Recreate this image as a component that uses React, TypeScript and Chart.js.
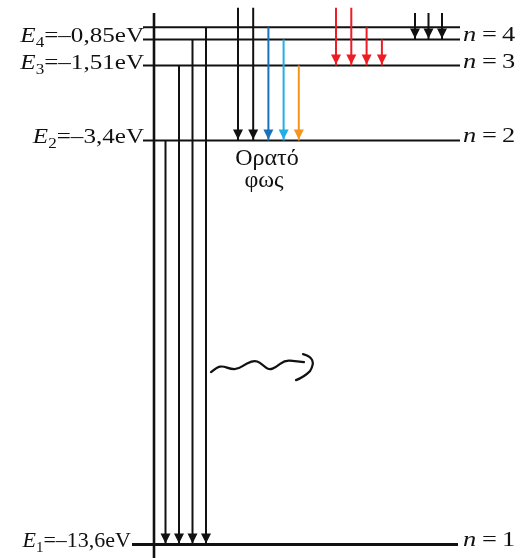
import React, { useEffect, useRef } from "react";
import { Chart, registerables } from "chart.js";

Chart.register(...registerables);

// ---- data (energies in eV) ----
const levelN = [1, 2, 3, 4];
const levelEnergy = [-13.6, -3.4, -1.51, -0.85];
const levelText = ["–13,6eV", "–3,4eV", "–1,51eV", "–0,85eV"];
const topLevelEnergy = -0.54; // n = 5 (unlabelled top line)
const farEnergy = -0.05; // transitions coming from higher levels
const brackettStartEnergy = -0.18;

const lymanFrom = [-3.4, -1.51, -0.85, -0.54];
const lymanTo = -13.6;
const balmerFrom = [farEnergy, farEnergy, -0.54, -0.85, -1.51];
const balmerTo = -3.4;
const balmerColors = ["#111111", "#111111", "#1c72b8", "#22aee6", "#f7941d"];
const paschenFrom = [farEnergy, farEnergy, -0.54, -0.85];
const paschenTo = -1.51;
const paschenColor = "#ee1c25";
const brackettFrom = [brackettStartEnergy, brackettStartEnergy, brackettStartEnergy];
const brackettTo = -0.85;
const visibleLabel = ["Ορατό", "φως"];

// ---- layout ----
const W = 522;
const H = 558;
const Y_MIN = -13.944;
const Y_MAX = 0.146;
const AXIS_X = 154;
const LINE_START = 143;
const LINE_END = 460;
const SERIF = "'Liberation Serif', 'Times New Roman', serif";

function arrowSets(from: number[], to: number, x0: number, step: number, colors: string[] | string) {
  return from.map((f, i) => ({
    data: [
      { x: x0 + i * step, y: f },
      { x: x0 + i * step, y: to },
    ],
    showLine: true,
    borderColor: Array.isArray(colors) ? colors[i] : colors,
    backgroundColor: Array.isArray(colors) ? colors[i] : colors,
    borderWidth: 2,
    pointRadius: 0,
    clip: false,
    isArrow: true,
    order: 1,
  }));
}

const arrowHeads = {
  id: "arrowHeads",
  afterDatasetsDraw(chart: any) {
    const ctx = chart.ctx;
    chart.data.datasets.forEach((ds: any, i: number) => {
      if (!ds.isArrow) return;
      const meta = chart.getDatasetMeta(i);
      const p = meta.data[1];
      if (!p) return;
      const tipY = p.y - 1;
      const hw = 5;
      const hh = 10;
      ctx.save();
      ctx.fillStyle = ds.borderColor;
      ctx.beginPath();
      ctx.moveTo(p.x, tipY);
      ctx.lineTo(p.x - hw, tipY - hh);
      ctx.lineTo(p.x + hw, tipY - hh);
      ctx.closePath();
      ctx.fill();
      ctx.restore();
    });
  },
};

const textPlugin = {
  id: "texts",
  afterDraw(chart: any) {
    const ctx = chart.ctx;
    const ys = chart.scales.y;
    const xs = chart.scales.x;
    ctx.save();
    ctx.fillStyle = "#111";
    ctx.textBaseline = "alphabetic";
    ctx.textAlign = "left";
    // left energy labels
    levelEnergy.forEach((e, i) => {
      const sx = i === 0 ? 1.0 : 1.14;
      const py = ys.getPixelForValue(e);
      const base = py + 3;
      const right = i === 0 ? 131 : LINE_START + 1;
      ctx.font = `italic 22px ${SERIF}`;
      const wE = ctx.measureText("E").width;
      ctx.font = `15px ${SERIF}`;
      const wS = ctx.measureText(String(levelN[i])).width;
      ctx.font = `22px ${SERIF}`;
      const rest = "=" + levelText[i];
      const wR = ctx.measureText(rest).width;
      const total = (wE + wS + wR) * sx;
      ctx.save();
      ctx.translate(right - total, base);
      ctx.scale(sx, 1);
      ctx.font = `italic 22px ${SERIF}`;
      ctx.fillText("E", 0, 0);
      ctx.font = `15px ${SERIF}`;
      ctx.fillText(String(levelN[i]), wE, 5);
      ctx.font = `22px ${SERIF}`;
      ctx.fillText(rest, wE + wS, 0);
      ctx.restore();
    });
    // right n labels
    levelN.forEach((n, i) => {
      const py = ys.getPixelForValue(levelEnergy[i]);
      const base = py + 2;
      const x0 = xs.getPixelForValue(LINE_END) + 3;
      const pieces: [string, string, number][] = [
        ["n", `italic 22px ${SERIF}`, 0],
        ["=", `22px ${SERIF}`, 19],
        [String(n), `22px ${SERIF}`, 39],
      ];
      pieces.forEach(([t, f, dx]) => {
        ctx.save();
        ctx.translate(x0 + dx, base);
        ctx.scale(1.2, 1);
        ctx.font = f;
        ctx.fillText(t, 0, 0);
        ctx.restore();
      });
    });
    // visible light label
    const e2 = ys.getPixelForValue(balmerTo);
    ctx.font = `24px ${SERIF}`;
    ctx.textAlign = "center";
    ctx.fillText(visibleLabel[0], xs.getPixelForValue(267), e2 + 25);
    ctx.fillText(visibleLabel[1], xs.getPixelForValue(264), e2 + 47);

    // photon squiggle
    const ox = xs.getPixelForValue(211);
    const oy = ys.getPixelForValue(-9.2);
    const pts = [
      [0, 2], [6, -3], [12, -4], [20, -1], [27, -1], [36, -7], [45, -10], [52, -5], [58, 0], [65, -3], [74, -10], [84, -9], [93, -8],
    ];
    ctx.strokeStyle = "#111";
    ctx.lineWidth = 2.2;
    ctx.lineCap = "round";
    ctx.lineJoin = "round";
    ctx.beginPath();
    ctx.moveTo(ox + pts[0][0], oy + pts[0][1]);
    for (let k = 1; k < pts.length - 1; k++) {
      const mx = (pts[k][0] + pts[k + 1][0]) / 2;
      const my = (pts[k][1] + pts[k + 1][1]) / 2;
      ctx.quadraticCurveTo(ox + pts[k][0], oy + pts[k][1], ox + mx, oy + my);
    }
    ctx.lineTo(ox + pts[pts.length - 1][0], oy + pts[pts.length - 1][1]);
    ctx.stroke();
    ctx.beginPath();
    ctx.moveTo(ox + 92, oy - 16);
    ctx.quadraticCurveTo(ox + 107, oy - 12, ox + 99, oy + 1);
    ctx.quadraticCurveTo(ox + 93, oy + 7, ox + 85, oy + 10);
    ctx.stroke();
    ctx.restore();
  },
};

export default function App() {
  const ref = useRef<HTMLCanvasElement | null>(null);
  useEffect(() => {
    if (!ref.current) return;
    const levels = levelEnergy.map((e, i) => ({
      data: [
        { x: i === 0 ? 132 : LINE_START, y: e },
        { x: i === 0 ? 458 : LINE_END, y: e },
      ],
      showLine: true,
      borderColor: "#111",
      borderWidth: i === 0 ? 3 : 2,
      pointRadius: 0,
      clip: false,
      order: 2,
    }));
    const top = {
      data: [
        { x: LINE_START, y: topLevelEnergy },
        { x: LINE_END, y: topLevelEnergy },
      ],
      showLine: true,
      borderColor: "#111",
      borderWidth: 2,
      pointRadius: 0,
      clip: false,
      order: 2,
    };
    const axis = {
      data: [
        { x: AXIS_X, y: brackettStartEnergy },
        { x: AXIS_X, y: Y_MIN },
      ],
      showLine: true,
      borderColor: "#111",
      borderWidth: 2.6,
      pointRadius: 0,
      clip: false,
      order: 2,
    };
    const datasets: any[] = [
      ...levels,
      top,
      axis,
      ...arrowSets(lymanFrom, lymanTo, 165.5, 13.5, "#111111"),
      ...arrowSets(balmerFrom, balmerTo, 238, 15.2, balmerColors),
      ...arrowSets(paschenFrom, paschenTo, 336, 15.3, paschenColor),
      ...arrowSets(brackettFrom, brackettTo, 415, 13.5, "#111111"),
    ];
    const chart = new Chart(ref.current, {
      type: "scatter",
      data: { datasets },
      options: {
        animation: false,
        responsive: false,
        events: [],
        layout: { padding: 0 },
        plugins: { legend: { display: false }, tooltip: { enabled: false } },
        scales: {
          x: { type: "linear", min: 0, max: W, display: false },
          y: { type: "linear", min: Y_MIN, max: Y_MAX, display: false },
        },
      },
      plugins: [arrowHeads, textPlugin],
    } as any);
    return () => chart.destroy();
  }, []);
  return (
    <div style={{ position: "absolute", left: 0, top: 0, width: W, height: H, background: "#fff" }}>
      <canvas ref={ref} width={W} height={H} style={{ display: "block" }} />
    </div>
  );
}
